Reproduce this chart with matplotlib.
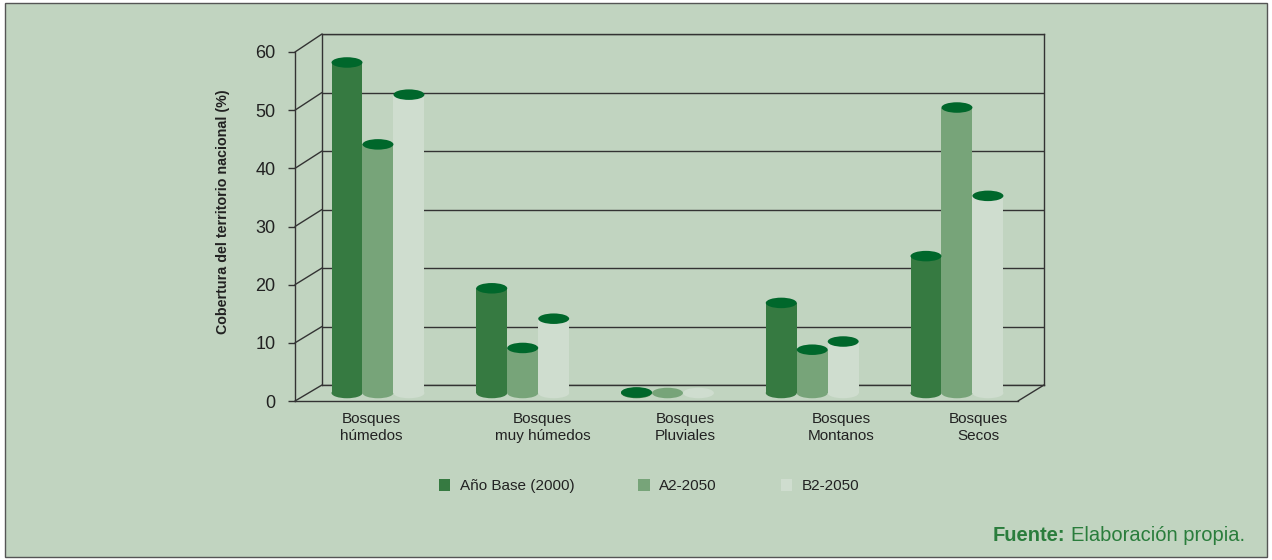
import matplotlib
matplotlib.use("Agg")
import matplotlib.pyplot as plt
import matplotlib.transforms as mtransforms
from matplotlib.patches import Ellipse, Rectangle, ConnectionPatch

plt.rcParams['font.family'] = ['Liberation Sans', 'DejaVu Sans']

# data
categories = ["Bosques\nhúmedos", "Bosques\nmuy húmedos", "Bosques\nPluviales",
              "Bosques\nMontanos", "Bosques\nSecos"]
series_names = ["Año Base (2000)", "A2-2050", "B2-2050"]
base_2000 = [56.5, 17.9, 0.1, 15.4, 23.4]
a2_2050 = [42.5, 7.7, 0.0, 7.4, 48.8]
b2_2050 = [51.0, 12.7, 0.0, 8.8, 33.7]
y_ticks = [0, 10, 20, 30, 40, 50, 60]

series = [base_2000, a2_2050, b2_2050]
bar_colors = ["#367a41", "#77a479", "#cfddcf"]
top_color = "#00672b"
bg = "#c1d4c0"
line_col = "#333333"
text_col = "#222222"

W, H = 1272, 560
fig = plt.figure(figsize=(W / 100, H / 100), dpi=100)
fig.patch.set_facecolor("white")
fig.patches.append(Rectangle((5 / W, 3 / H), 1262 / W, 554 / H, transform=fig.transFigure,
                             facecolor=bg, edgecolor="#555555", lw=1, zorder=-10))

xl, xr = -0.48, 4.508

# back wall
ax = fig.add_axes([322 / W, (H - 385) / H, 722 / W, 351 / H])
ax.set_xlim(xl, xr)
ax.set_ylim(0, 60)
ax.patch.set_visible(False)
ax.set_yticks(y_ticks)
ax.set_xticks([])
ax.tick_params(length=0, labelleft=False)
ax.grid(axis="y", color=line_col, lw=1)
ax.set_axisbelow(True)
for s in ax.spines.values():
    s.set_color(line_col)
    s.set_linewidth(1)

# front axis
axf = fig.add_axes([295 / W, (H - 401) / H, 723 / W, 349 / H])
axf.set_xlim(xl, xr)
axf.set_ylim(0, 60)
axf.patch.set_visible(False)
axf.set_yticks(y_ticks)
axf.set_xticks([])
axf.spines["top"].set_visible(False)
axf.spines["right"].set_visible(False)
for s in ["left", "bottom"]:
    axf.spines[s].set_color(line_col)
    axf.spines[s].set_linewidth(1)
axf.tick_params(axis="y", length=5, width=1, color=line_col, pad=9,
                labelsize=13, labelcolor=text_col)

# depth lines between front axis and back wall
for y in y_ticks:
    fig.add_artist(ConnectionPatch(xyA=(xl, y), coordsA=axf.transData,
                                   xyB=(xl, y), coordsB=ax.transData,
                                   color=line_col, lw=1))
fig.add_artist(ConnectionPatch(xyA=(xr, 0), coordsA=axf.transData,
                               xyB=(xr, 0), coordsB=ax.transData,
                               color=line_col, lw=1))

# cylinders sit halfway between front and back
mid = ax.transData + mtransforms.ScaledTranslation(-0.135, -0.08, fig.dpi_scale_trans)
bw = 0.214
eh = 10.5 / (351 / 60)
pos = list(range(len(categories)))
handles = []
for i, vals in enumerate(series):
    xs = [p + (i - 1) * bw for p in pos]
    bars = ax.bar(xs, vals, width=bw, color=bar_colors[i], transform=mid,
                  zorder=3, clip_on=False, label=series_names[i])
    handles.append(bars)
    for x, v in zip(xs, vals):
        ax.add_patch(Ellipse((x, 0), bw, eh, facecolor=bar_colors[i], edgecolor="none",
                             transform=mid, zorder=2.9, clip_on=False))
        if v > 0:
            ax.add_patch(Ellipse((x, v), bw, eh, facecolor=top_color, edgecolor="none",
                                 transform=mid, zorder=3.1, clip_on=False))

# category labels (nudged like in the original)
nudges = [7, 33, 31, 42, 34]
for p, lab, dx in zip(pos, categories, nudges):
    axf.annotate(lab, xy=(p, 0), xycoords="data", xytext=(dx, -11),
                 textcoords="offset pixels", ha="center", va="top",
                 fontsize=11, color=text_col, linespacing=1.28)

fig.text(222.5 / W, 1 - 211.5 / H, "Cobertura del territorio nacional (%)", rotation=90,
         ha="center", va="center", fontsize=10.3, fontweight="bold", color=text_col)

fig.legend(handles, series_names, loc="center", bbox_to_anchor=(649 / W, 1 - 486 / H),
           ncol=3, frameon=False, fontsize=11, handlelength=0.75, handleheight=0.85,
           handletextpad=0.6, columnspacing=4.2, labelcolor=text_col)

src = fig.text(1245 / W, 1 - 541 / H, "Elaboración propia.", ha="right", va="baseline",
               fontsize=14.5, color="#2a7d3c")
fig.add_artist(plt.Annotation("Fuente:", xy=(0, 0), xycoords=src, xytext=(-6, 0),
                              textcoords="offset pixels", ha="right", va="bottom",
                              fontsize=14.5, fontweight="bold", color="#2a7d3c"))

fig.savefig("out.png", dpi=100)
